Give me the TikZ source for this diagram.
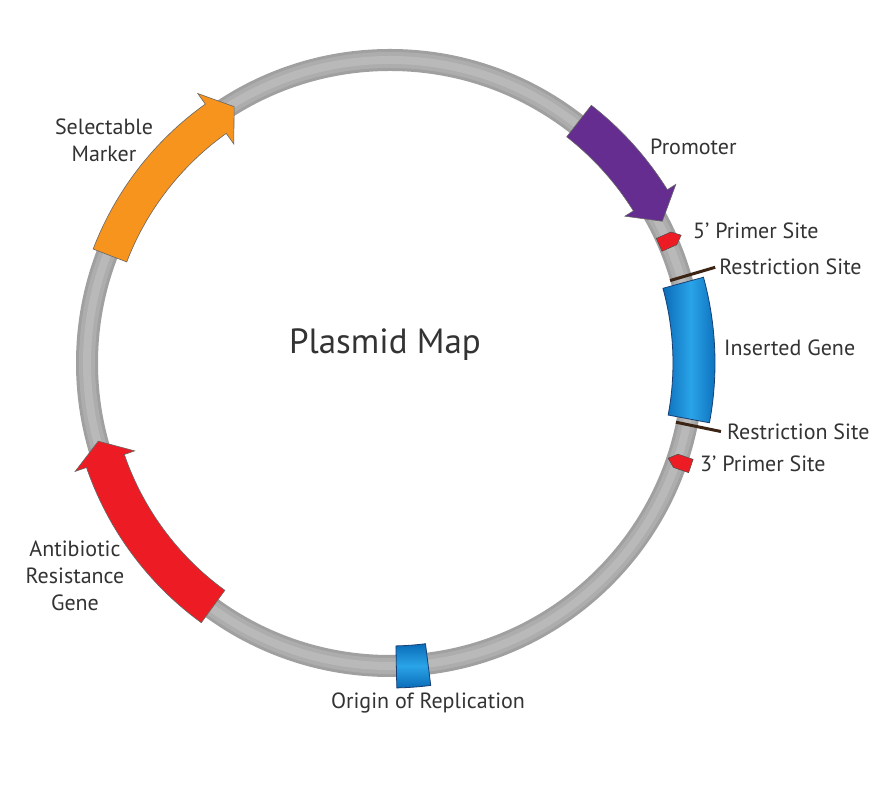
\documentclass[tikz,border=0pt]{standalone}
\usepackage{fontspec}
\setmainfont{PT Sans}
\usetikzlibrary{positioning,calc}
\definecolor{Ink}{HTML}{333333}
\definecolor{RingEdge}{HTML}{A0A0A0}
\definecolor{RingSoft}{HTML}{ADADAD}
\definecolor{RingMid}{HTML}{B9B9B9}
\definecolor{Violet}{HTML}{662D91}
\definecolor{Amber}{HTML}{F7941D}
\definecolor{Crimson}{HTML}{ED1C24}
\definecolor{GeneDark}{HTML}{0A6CB8}
\definecolor{GeneLight}{HTML}{2AA4E8}
\definecolor{GeneEdge}{HTML}{173F74}
\definecolor{Cut}{HTML}{3C2415}
\tikzset{
 ring/.style={draw=RingEdge,line width=22pt},
 ringsoft/.style={draw=RingSoft,line width=16pt},
 ringmid/.style={draw=RingMid,line width=8pt},
 feat/.style={draw=black!60,line width=0.6pt,line join=miter},
 gene/.style={draw=GeneEdge,line width=0.8pt,left color=GeneDark,right color=GeneDark,middle color=GeneLight},
 ori/.style={draw=GeneEdge,line width=0.8pt,top color=GeneDark,bottom color=GeneDark,middle color=GeneLight},
 cut/.style={draw=Cut,line width=3pt},
 primer/.style={fill=Crimson,draw=black!70,line width=0.5pt},
 lbl/.style={font=\fontsize{22}{27}\selectfont,text=Ink,inner sep=0pt,align=center},
 title/.style={font=\fontsize{35}{40}\selectfont,text=Ink,inner sep=0pt}
}

\begin{document}
\begin{tikzpicture}[x=1pt,y=1pt]
\useasboundingbox[fill=white] (0,0) rectangle (880,786);
\coordinate (C) at (390,423);
\begin{scope}[shift={(C)}]
% backbone
\draw[ring] (0,0) circle[radius=303pt];
\draw[ringsoft] (0,0) circle[radius=303pt];
\draw[ringmid] (0,0) circle[radius=303pt];
% coding regions
\path[feat,fill=Violet] (52:327pt) arc[start angle=52,end angle=32,radius=327pt] -- (32:337pt) -- (27.5:307pt) -- (32:277pt) -- (32:287pt) arc[start angle=32,end angle=52,radius=287pt] -- cycle;
\path[feat,fill=Amber] (159:318pt) arc[start angle=159,end angle=125.5,radius=318pt] -- (125.5:331pt) -- (121.3:300pt) -- (125.5:269pt) -- (125.5:282pt) arc[start angle=125.5,end angle=159,radius=282pt] -- cycle;
\path[feat,fill=Crimson] (234:321pt) arc[start angle=234,end angle=199,radius=321pt] -- (199:333pt) -- (195:302pt) -- (199:270pt) -- (199:281pt) arc[start angle=199,end angle=234,radius=281pt] -- cycle;
\path[gene] (15.3:325pt) arc[start angle=15.3,end angle=-10.6,radius=325pt] -- (-10.6:283pt) arc[start angle=-10.6,end angle=15.3,radius=283pt] -- cycle;
\path[ori] (-88.8:325pt) arc[start angle=-88.8,end angle=-82.8,radius=325pt] -- (-82.8:283pt) arc[start angle=-82.8,end angle=-88.8,radius=283pt] -- cycle;
% restriction sites
\coordinate (rs1) at (16.4:339pt);
\coordinate (rs2) at (-11.7:338pt);
\draw[cut] (16.4:292pt) -- (rs1);
\draw[cut] (-11.7:292pt) -- (rs2);
% primer sites
\path[primer,shift={(23.7:306pt)},rotate=23.7] (-12,-7) -- (4,-7) -- (12,0) -- (4,7) -- (-12,7) -- cycle;
\path[primer,shift={(-18.9:306pt)},rotate=161.1] (-12,-7) -- (4,-7) -- (12,0) -- (4,7) -- (-12,7) -- cycle;
\end{scope}
% labels
\node[title] (map) at (385,441) {Plasmid Map};
\node[lbl,anchor=west] (prom) at (650,639) {Promoter};
\node[lbl,anchor=west] (p5) at (693,555) {5’ Primer Site};
\node[lbl,anchor=west,right=4pt of rs1] (rsa) {Restriction Site};
\node[lbl,anchor=west] (ins) at (724,438) {Inserted Gene};
\node[lbl,anchor=west,right=6pt of rs2] (rsb) {Restriction Site};
\node[lbl,anchor=west] (p3) at (700,322) {3’ Primer Site};
\node[lbl] (orig) at (428,83) {Origin of Replication};
\node[lbl] (abr) at (75,210) {Antibiotic\\Resistance\\Gene};
\node[lbl] (sel) at (104,646) {Selectable\\Marker};
\end{tikzpicture}
\end{document}
